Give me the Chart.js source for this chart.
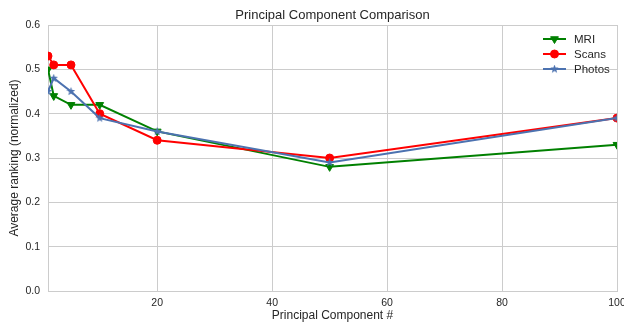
<!DOCTYPE html>
<html>
<head>
<meta charset="utf-8">
<script src="https://cdn.jsdelivr.net/npm/chart.js@4.4.1/dist/chart.umd.min.js"></script>
<style>
  html, body { margin: 0; padding: 0; background: #fff; }
  #wrap { width: 624px; height: 327px; position: relative; }
</style>
</head>
<body>
<div id="wrap"><canvas id="pcChart"></canvas></div>
<script>
// principal component counts on the x axis
const components = [1, 2, 5, 10, 20, 50, 100];
const mriRank    = [0.50, 0.44, 0.42, 0.42, 0.36, 0.28, 0.33];
const scansRank  = [0.53, 0.51, 0.51, 0.40, 0.34, 0.30, 0.39];
const photosRank = [0.45, 0.48, 0.45, 0.39, 0.36, 0.29, 0.39];
const xTicks = [20, 40, 60, 80, 100];
const yTicks = [0, 0.1, 0.2, 0.3, 0.4, 0.5, 0.6];

const FONT = "'Liberation Sans', Arial, sans-serif";
const INK = '#262626';
const GRID = '#cccccc';

// filled five point star, like matplotlib's '*' marker
function starMarker(color, size) {
  const c = document.createElement('canvas');
  c.width = size; c.height = size;
  const g = c.getContext('2d');
  const cx = size / 2, cy = size / 2, ro = size / 2, ri = ro * 0.42;
  g.beginPath();
  for (let i = 0; i < 10; i++) {
    const r = i % 2 ? ri : ro;
    const a = -Math.PI / 2 + i * Math.PI / 5;
    g.lineTo(cx + r * Math.cos(a), cy + r * Math.sin(a));
  }
  g.closePath();
  g.fillStyle = color; g.fill();
  return c;
}

const series = [
  { label: 'MRI', data: mriRank, color: '#008000', style: 'triangle', rot: 180, r: 4.5, order: 2 },
  { label: 'Scans', data: scansRank, color: '#ff0000', style: 'circle', rot: 0, r: 4, order: 1 },
  { label: 'Photos', data: photosRank, color: '#4c72b0', style: starMarker('#4c72b0', 9), rot: 0, r: 4.5, order: 0 },
];

// legend with line + marker, top right inside the plot
const lineLegend = {
  id: 'lineLegend',
  afterDatasetsDraw(chart) {
    const { ctx, chartArea } = chart;
    const x0 = chartArea.right - 74, y0 = chartArea.top + 14;
    ctx.save();
    series.forEach((s, i) => {
      const y = y0 + i * 15;
      ctx.strokeStyle = s.color; ctx.fillStyle = s.color; ctx.lineWidth = 2;
      ctx.beginPath(); ctx.moveTo(x0, y); ctx.lineTo(x0 + 23, y); ctx.stroke();
      ctx.lineWidth = 1;
      Chart.helpers.drawPoint(ctx, { pointStyle: s.style, radius: s.r, rotation: s.rot, borderWidth: 1 }, x0 + 11.5, y);
      ctx.fillStyle = INK;
      ctx.font = '11.5px ' + FONT;
      ctx.textBaseline = 'middle';
      ctx.fillText(s.label, x0 + 31, y + 0.5);
    });
    ctx.restore();
  },
};

new Chart(document.getElementById('pcChart'), {
  type: 'line',
  data: {
    datasets: series.map(s => ({
      label: s.label,
      data: components.map((x, i) => ({ x, y: s.data[i] })),
      borderColor: s.color,
      backgroundColor: s.color,
      borderWidth: 2,
      pointStyle: s.style,
      pointRotation: s.rot,
      pointRadius: s.r,
      pointBorderWidth: 1,
      tension: 0,
      order: s.order,
    })),
  },
  options: {
    responsive: true,
    maintainAspectRatio: false,
    animation: false,
    layout: { padding: { top: 0, right: 7, left: 0, bottom: 0 } },
    plugins: {
      legend: { display: false },
      tooltip: { enabled: false },
      title: {
        display: true,
        fullSize: false,
        text: 'Principal Component Comparison',
        color: INK,
        font: { family: FONT, size: 13, weight: 'normal', lineHeight: 1.2 },
        padding: { top: 7.2, bottom: 2.2 },
      },
    },
    scales: {
      x: {
        type: 'linear',
        min: 1, max: 100,
        afterBuildTicks: s => { s.ticks = xTicks.map(v => ({ value: v })); },
        afterFit: s => { s.height = 36; s.paddingLeft = 0; s.paddingRight = 0; },
        grid: { color: GRID, lineWidth: 1, drawTicks: false },
        border: { color: GRID, width: 1 },
        ticks: { color: INK, padding: 6, maxRotation: 0, font: { family: FONT, size: 10.5 } },
        title: {
          display: true, text: 'Principal Component #', color: INK,
          font: { family: FONT, size: 12, lineHeight: 1.2 },
          padding: { top: 0, bottom: 4 },
        },
      },
      y: {
        min: 0, max: 0.6,
        afterBuildTicks: s => { s.ticks = yTicks.map(v => ({ value: v })); },
        afterFit: s => { s.width = 48; s.paddingTop = 0; s.paddingBottom = 0; },
        grid: { color: GRID, lineWidth: 1, drawTicks: false },
        border: { color: GRID, width: 1 },
        ticks: { color: INK, padding: 8, callback: v => v.toFixed(1), font: { family: FONT, size: 10.5 } },
        title: {
          display: true, text: 'Average ranking (normalized)', color: INK,
          font: { family: FONT, size: 12, lineHeight: 1.2 },
          padding: { top: 7, bottom: 0 },
        },
      },
    },
  },
  plugins: [lineLegend],
});
</script>
</body>
</html>
